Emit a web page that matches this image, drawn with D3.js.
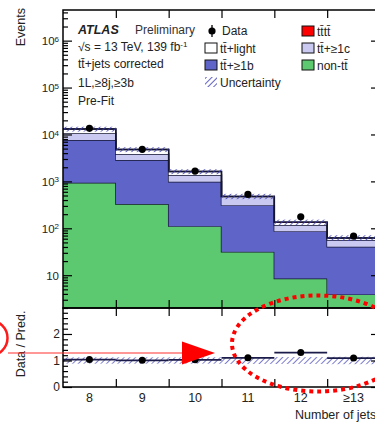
<!DOCTYPE html>
<html><head><meta charset="utf-8">
<script src="https://cdn.jsdelivr.net/npm/d3@7"></script>
<style>
html,body{margin:0;padding:0;background:#fff;overflow:hidden}
svg{display:block;font-family:"Liberation Sans",Arial,Helvetica,sans-serif}
</style></head><body>
<svg id="c" width="375" height="422"></svg>
<script>
// jet-multiplicity bins
const bins = ["8", "9", "10", "11", "12", "≥13"];
// stacked predictions (events per bin), bottom to top
const nonTT   = [935, 328, 111, 31.5, 8.5, 3.9];
const ttB     = [6685, 2522, 871, 280, 78.5, 36.4];
const ttC     = [2970, 980, 382, 144, 30, 15.7];
const ttLight = [2480, 950, 256, 24, 18, 6];
const tttt    = [2.5, 1.8, 1.1, 0.7, 0.4, 0.3];
// observed events
const data    = [13500, 4820, 1660, 528, 176, 68];
// relative uncertainty of the prediction
const uncert  = [0.12, 0.12, 0.12, 0.13, 0.13, 0.14];
// axis ticks
const yMajor  = [10, 1e2, 1e3, 1e4, 1e5, 1e6];
const rMajor  = [0, 1, 2];

const L = 63, R = 380, T = 10, MB = 308, RB = 387;
const svg = d3.select("#c");
const ink = "#222";

const x = d3.scaleBand().domain(bins).range([L, R]).padding(0);
const bw = x.bandwidth();
const xEdge = d3.scaleLinear().domain([0, bins.length]).range([L, R]);
const y = d3.scaleLog().domain([2, 4.5e6]).range([MB, T]).clamp(true);
const yr = d3.scaleLinear().domain([0, 2.98]).range([RB, MB]);

const defs = svg.append("defs");
const pat = defs.append("pattern").attr("id", "hatch")
  .attr("patternUnits", "userSpaceOnUse").attr("width", 4).attr("height", 4)
  .attr("patternTransform", "rotate(45)");
pat.append("line").attr("x1", 0).attr("y1", 0).attr("x2", 0).attr("y2", 4)
  .attr("stroke", "#3d3db5").attr("stroke-width", 1.6);
defs.append("clipPath").attr("id", "mainClip").append("rect")
  .attr("x", L).attr("y", T).attr("width", R - L).attr("height", MB - T);
defs.append("clipPath").attr("id", "ratioClip").append("rect")
  .attr("x", L).attr("y", MB).attr("width", R - L).attr("height", RB - MB);

// ---- stacked histogram ----
const keys = ["nonTT", "ttB", "ttC", "ttLight", "tttt"];
const fills = { nonTT: "#5cc86f", ttB: "#5f65c8", ttC: "#c9c9f2", ttLight: "#ffffff", tttt: "#ff0000" };
const src = { nonTT, ttB, ttC, ttLight, tttt };
const table = bins.map((b, i) => {
  const row = { bin: b };
  keys.forEach(k => row[k] = src[k][i]);
  return row;
});
const series = d3.stack().keys(keys)(table);
const pred = bins.map((b, i) => d3.sum(keys, k => src[k][i]));

const main = svg.append("g").attr("clip-path", "url(#mainClip)");
const area = d3.area().x(p => p.x).y0(p => y(Math.max(p.y0, 2))).y1(p => y(p.y1));
const topLine = d3.line().x(p => p.x).y(p => y(p.y1));
series.forEach(layer => {
  const pts = layer.flatMap(d => [
    { x: x(d.data.bin), y0: d[0], y1: d[1] },
    { x: x(d.data.bin) + bw, y0: d[0], y1: d[1] }
  ]);
  main.append("path").attr("d", area(pts)).attr("fill", fills[layer.key]);
  main.append("path").attr("d", topLine(pts)).attr("fill", "none")
    .attr("stroke", "#151530").attr("stroke-width", 1.4);
});

// uncertainty band
main.selectAll("rect.unc").data(bins).join("rect").attr("class", "unc")
  .attr("x", b => x(b)).attr("width", bw)
  .attr("y", (b, i) => y(pred[i] * (1 + uncert[i])))
  .attr("height", (b, i) => y(pred[i] * (1 - uncert[i])) - y(pred[i] * (1 + uncert[i])))
  .attr("fill", "url(#hatch)");

// data points
main.selectAll("circle.dat").data(bins).join("circle").attr("class", "dat")
  .attr("cx", b => x(b) + bw / 2).attr("cy", (b, i) => y(data[i])).attr("r", 3.6)
  .attr("fill", "#000");

// ---- ratio panel ----
const ratio = bins.map((b, i) => data[i] / pred[i]);
const rp = svg.append("g").attr("clip-path", "url(#ratioClip)");
rp.selectAll("rect.runc").data(bins).join("rect").attr("class", "runc")
  .attr("x", b => x(b)).attr("width", bw)
  .attr("y", (b, i) => yr(1 + uncert[i]))
  .attr("height", (b, i) => yr(1 - uncert[i]) - yr(1 + uncert[i]))
  .attr("fill", "url(#hatch)").attr("opacity", 0.85);
rp.selectAll("line.rbar").data(bins).join("line").attr("class", "rbar")
  .attr("x1", b => x(b)).attr("x2", b => x(b) + bw)
  .attr("y1", (b, i) => yr(ratio[i])).attr("y2", (b, i) => yr(ratio[i]))
  .attr("stroke", "#1c1c4a").attr("stroke-width", 1.8);
rp.selectAll("circle.rdat").data(bins).join("circle").attr("class", "rdat")
  .attr("cx", b => x(b) + bw / 2).attr("cy", (b, i) => yr(ratio[i])).attr("r", 3.5)
  .attr("fill", "#000");

// ---- axes ----
function clean(g) { g.select(".domain").remove(); g.selectAll("line").attr("stroke", "#000").attr("stroke-width", 1.2); }
const yMinor = [];
for (let k = 0; k <= 6; k++) for (let m = 2; m <= 9; m++) {
  const v = m * Math.pow(10, k);
  if (v >= 2 && v <= 4.5e6) yMinor.push(v);
}
// left, main
svg.append("g").attr("transform", `translate(${L},0)`)
  .call(d3.axisLeft(y).tickValues(yMinor).tickFormat("").tickSizeInner(-5).tickSizeOuter(0)).call(clean);
const yl = svg.append("g").attr("transform", `translate(${L},0)`)
  .call(d3.axisLeft(y).tickValues(yMajor).tickSizeInner(-9).tickSizeOuter(0).tickPadding(4)).call(clean);
yl.selectAll("text").each(function (v) {
  const t = d3.select(this).text("").attr("fill", ink).attr("font-size", 11.5).attr("dy", "0.36em");
  const e = Math.round(Math.log10(v));
  t.append("tspan").text("10");
  if (e > 1) t.append("tspan").attr("dy", "-0.45em").attr("font-size", 8).text(e);
});
// right, main
svg.append("g").attr("transform", `translate(${R},0)`)
  .call(d3.axisRight(y).tickValues(yMinor).tickFormat("").tickSizeInner(-5).tickSizeOuter(0)).call(clean);
svg.append("g").attr("transform", `translate(${R},0)`)
  .call(d3.axisRight(y).tickValues(yMajor).tickFormat("").tickSizeInner(-9).tickSizeOuter(0)).call(clean);

// ratio y axis
const rMinor = d3.range(0.2, 2.98, 0.2).filter(v => Math.abs(v - Math.round(v)) > 0.01);
svg.append("g").attr("transform", `translate(${L},0)`)
  .call(d3.axisLeft(yr).tickValues(rMinor).tickFormat("").tickSizeInner(-5).tickSizeOuter(0)).call(clean);
const rl = svg.append("g").attr("transform", `translate(${L},0)`)
  .call(d3.axisLeft(yr).tickValues(rMajor).tickFormat(d3.format("d")).tickSizeInner(-9).tickSizeOuter(0).tickPadding(3)).call(clean);
rl.selectAll("text").attr("fill", ink).attr("font-size", 12);
svg.append("g").attr("transform", `translate(${R},0)`)
  .call(d3.axisRight(yr).tickValues(rMajor).tickFormat("").tickSizeInner(-9).tickSizeOuter(0)).call(clean);

// bin-edge ticks on every horizontal frame line
const edges = d3.range(1, bins.length);
[[T, "down"], [MB, "up"], [MB, "down"], [RB, "up"]].forEach(([yy, dir]) => {
  const ax = dir === "down" ? d3.axisTop(xEdge) : d3.axisBottom(xEdge);
  svg.append("g").attr("transform", `translate(0,${yy})`)
    .call(ax.tickValues(edges).tickFormat("").tickSizeInner(-8).tickSizeOuter(0)).call(clean);
});
// bin labels
const xl = svg.append("g").attr("transform", `translate(0,${RB})`)
  .call(d3.axisBottom(x).tickSize(0).tickPadding(6));
xl.select(".domain").remove();
xl.selectAll("text").attr("fill", ink).attr("font-size", 12.5);

// frames
svg.append("rect").attr("x", L).attr("y", T).attr("width", R - L).attr("height", MB - T)
  .attr("fill", "none").attr("stroke", "#000").attr("stroke-width", 1.5);
svg.append("rect").attr("x", L).attr("y", MB).attr("width", R - L).attr("height", RB - MB)
  .attr("fill", "none").attr("stroke", "#000").attr("stroke-width", 1.5);

// axis titles
svg.append("text").attr("transform", "translate(25,8) rotate(-90)").attr("text-anchor", "end")
  .attr("font-size", 12.5).attr("fill", ink).text("Events");
svg.append("text").attr("transform", "translate(25,344) rotate(-90)").attr("text-anchor", "middle")
  .attr("font-size", 12.5).attr("fill", ink).text("Data / Pred.");
svg.append("text").attr("x", 295).attr("y", 419).attr("font-size", 12.5).attr("fill", ink).text("Number of jets");

// ---- labels ----
const lab = svg.append("g").attr("fill", ink).attr("font-size", 12);
const a = lab.append("text").attr("x", 78).attr("y", 34);
a.append("tspan").attr("font-weight", "bold").attr("font-style", "italic").attr("font-size", 12.5).text("ATLAS");
a.append("tspan").attr("x", 135).attr("fill", "#333").text("Preliminary");
const s = lab.append("text").attr("x", 78).attr("y", 51);
s.append("tspan").text("√s = 13 TeV, 139 fb");
s.append("tspan").attr("dy", "-0.45em").attr("font-size", 8).text("-1");
lab.append("text").attr("x", 78).attr("y", 68).text("tt\u0304+jets corrected");
lab.append("text").attr("x", 78).attr("y", 87).text("1L,≥8j,≥3b");
lab.append("text").attr("x", 78).attr("y", 105).text("Pre-Fit");

// legend
const leg = svg.append("g").attr("font-size", 12).attr("fill", ink);
leg.append("line").attr("x1", 212).attr("x2", 212).attr("y1", 25).attr("y2", 37).attr("stroke", "#000").attr("stroke-width", 1.3);
leg.append("circle").attr("cx", 212).attr("cy", 31).attr("r", 3.6).attr("fill", "#000");
leg.append("text").attr("x", 222).attr("y", 35).text("Data");
const legBoxes = [
  { x: 205, y: 43, fill: fills.ttLight, label: "tt\u0304+light" },
  { x: 205, y: 60, fill: fills.ttB, label: "tt\u0304+≥1b" },
  { x: 302, y: 26, fill: fills.tttt, label: "tt\u0304tt\u0304" },
  { x: 302, y: 43, fill: fills.ttC, label: "tt\u0304+≥1c" },
  { x: 302, y: 60, fill: fills.nonTT, label: "non-tt\u0304" }
];
legBoxes.forEach(d => {
  leg.append("rect").attr("x", d.x).attr("y", d.y).attr("width", 12).attr("height", 10)
    .attr("fill", d.fill).attr("stroke", "#111").attr("stroke-width", 1);
  leg.append("text").attr("x", d.x + 15).attr("y", d.y + 9.5).text(d.label);
});
leg.append("rect").attr("x", 205).attr("y", 77).attr("width", 12).attr("height", 10).attr("fill", "url(#hatch)");
leg.append("text").attr("x", 220).attr("y", 86.5).text("Uncertainty");

// ---- red markup ----
const mk = svg.append("g");
mk.append("circle").attr("cx", -10).attr("cy", 338).attr("r", 17.5)
  .attr("fill", "none").attr("stroke", "#ff1a1a").attr("stroke-width", 2.5);
mk.append("line").attr("x1", 8).attr("x2", 184).attr("y1", 353).attr("y2", 353)
  .attr("stroke", "#ff3030").attr("stroke-width", 1.2);
mk.append("path").attr("d", "M182,341.5 L215,353 L182,364.5 Z").attr("fill", "#ff0000");
mk.append("ellipse").attr("cx", 318).attr("cy", 343.5).attr("rx", 86).attr("ry", 48)
  .attr("fill", "none").attr("stroke", "#ff0000").attr("stroke-width", 4).attr("stroke-dasharray", "4 4");
</script>
</body></html>
